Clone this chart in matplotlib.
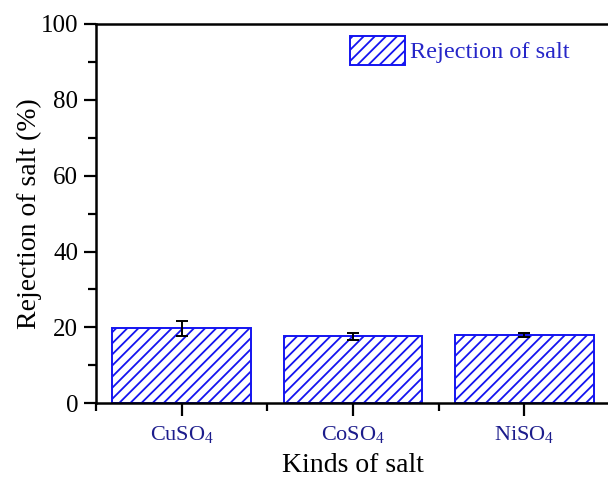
import matplotlib
matplotlib.use('Agg')
import matplotlib.pyplot as plt
from matplotlib.ticker import MultipleLocator

salts = ['CuSO$_4$', 'CoSO$_4$', 'NiSO$_4$']
rejection = [19.7, 17.6, 18.0]
rejection_err = [2.0, 1.0, 0.6]

plt.rcParams['font.family'] = ['Liberation Serif', 'DejaVu Serif']
plt.rcParams['mathtext.fontset'] = 'custom'
plt.rcParams['mathtext.rm'] = 'Liberation Serif'
plt.rcParams['hatch.linewidth'] = 1.3

bar_blue = '#1414f0'

fig = plt.figure(figsize=(6.08, 4.8), dpi=100)
ax = fig.add_axes([0.158, 0.160, 0.845, 0.790])

x = list(range(1, len(salts) + 1))
ax.bar(x, rejection, width=0.81, color='white', edgecolor=bar_blue,
       hatch='///', linewidth=1.4, label='Rejection of salt', zorder=2)
ax.errorbar(x, rejection, yerr=rejection_err, fmt='none', ecolor='black',
            elinewidth=1.4, capsize=4.3, capthick=1.4, zorder=3)

ax.set_xlim(0.5, len(salts) + 0.5)
ax.set_ylim(0, 100)
ax.set_xticks(x)
ax.set_xticklabels(salts, color='#1c1c8c', fontsize=16)
ax.xaxis.set_minor_locator(MultipleLocator(1, offset=0.5))
ax.yaxis.set_major_locator(MultipleLocator(20))
ax.yaxis.set_minor_locator(MultipleLocator(10))

for s in ax.spines.values():
    s.set_linewidth(1.8)
ax.tick_params(which='major', direction='out', length=9, width=1.6,
               labelsize=18, pad=4)
ax.tick_params(axis='x', which='major', labelsize=16, pad=6)
ax.tick_params(which='minor', direction='out', length=5.5, width=1.6)

ax.set_xlabel('Kinds of salt', fontsize=20, labelpad=5)
ax.set_ylabel('Rejection of salt (%)', fontsize=20, labelpad=-1)

leg = ax.legend(loc='upper left', bbox_to_anchor=(350 / 608, 1 - 36 / 480),
                bbox_transform=fig.transFigure, frameon=False, fontsize=17.5,
                handlelength=2.25, handleheight=1.45, handletextpad=0.2,
                borderpad=0, borderaxespad=0)
for t in leg.get_texts():
    t.set_color('#2626c8')

fig.savefig('out.png', dpi=100)
